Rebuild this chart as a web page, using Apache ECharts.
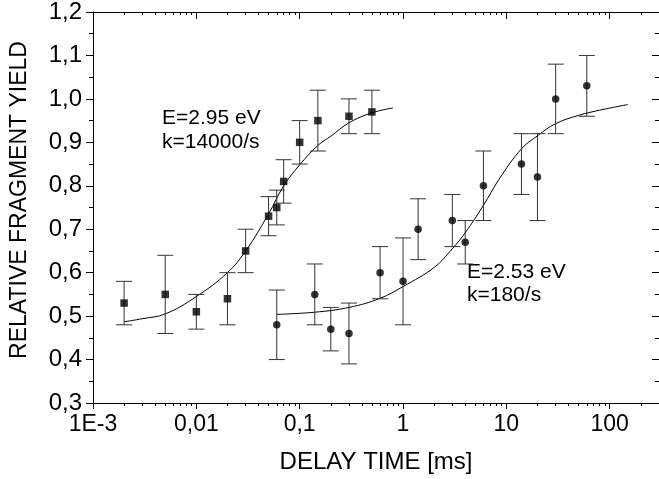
<!DOCTYPE html>
<html>
<head>
<meta charset="utf-8">
<script src="https://cdn.jsdelivr.net/npm/echarts@6/dist/echarts.min.js"></script>
<style>
  html, body { margin: 0; padding: 0; background: #fff; }
  #chart { width: 659px; height: 479px; }
</style>
</head>
<body>
<div id="chart"></div>
<script>
// E = 2.95 eV, delay time in ms
const fastTime = [0.002, 0.005, 0.01, 0.02, 0.03, 0.05, 0.06, 0.07, 0.1, 0.15, 0.3, 0.5]
const fastYield = [0.53, 0.55, 0.51, 0.54, 0.65, 0.73, 0.75, 0.81, 0.90, 0.95, 0.96, 0.97]
const fastErr = [0.05, 0.09, 0.04, 0.06, 0.05, 0.045, 0.04, 0.05, 0.05, 0.07, 0.04, 0.05]
// fitted curve
const fastFitTime = [0.002, 0.003, 0.005, 0.01, 0.02, 0.03, 0.05, 0.07, 0.1, 0.15, 0.2, 0.3, 0.5, 0.8]
const fastFitYield = [0.487, 0.494, 0.505, 0.545, 0.600, 0.650, 0.735, 0.800, 0.848, 0.893, 0.914, 0.945, 0.968, 0.979]

// E = 2.53 eV
const slowTime = [0.06, 0.14, 0.2, 0.3, 0.6, 1, 1.4, 3, 4, 6, 14, 20, 30, 60]
const slowYield = [0.48, 0.55, 0.47, 0.46, 0.60, 0.58, 0.70, 0.72, 0.67, 0.80, 0.85, 0.82, 1.00, 1.03]
const slowErr = [0.08, 0.07, 0.05, 0.07, 0.06, 0.10, 0.07, 0.06, 0.05, 0.08, 0.07, 0.10, 0.08, 0.07]
const slowFitTime = [0.06, 0.14, 0.3, 0.6, 1, 2, 3, 4, 6, 8.5, 14, 20, 30, 50, 80, 150]
const slowFitYield = [0.504, 0.509, 0.520, 0.541, 0.568, 0.612, 0.655, 0.692, 0.755, 0.815, 0.885, 0.915, 0.943, 0.962, 0.974, 0.987]

const majorTicks = [0.001, 0.01, 0.1, 1, 10, 100]
const tickLabels = ['1E-3', '0,01', '0,1', '1', '10', '100']

const minorTicks = []
majorTicks.forEach(d => {
  for (let m = 2; m <= 9; m++) {
    if (d * m < 300) minorTicks.push(+(d * m).toPrecision(3))
  }
})

const FONT = 'Liberation Sans, Arial, sans-serif'
const black = '#000'

const pairs = (xs, ys) => xs.map((x, i) => [x, ys[i]])
const bars = (xs, ys, es) => xs.map((x, i) => [x, ys[i] - es[i], ys[i] + es[i]])

function errorBars(params, api) {
  const x = api.value(0)
  const lo = api.coord([x, api.value(1)])
  const hi = api.coord([x, api.value(2)])
  const w = 8
  const style = { stroke: '#333', lineWidth: 1 }
  return {
    type: 'group',
    children: [
      { type: 'line', shape: { x1: lo[0], y1: lo[1], x2: hi[0], y2: hi[1] }, style },
      { type: 'line', shape: { x1: lo[0] - w, y1: lo[1], x2: lo[0] + w, y2: lo[1] }, style },
      { type: 'line', shape: { x1: hi[0] - w, y1: hi[1], x2: hi[0] + w, y2: hi[1] }, style },
    ]
  }
}

function labelFor(v) {
  const i = majorTicks.findIndex(t => Math.abs(Math.log10(t) - Math.log10(v)) < 0.01)
  return i >= 0 ? tickLabels[i] : ''
}

const logAxis = (position, ticks, len, inside, extra) => Object.assign({
  type: 'log',
  logBase: 10,
  min: 0.001,
  max: 300,
  position,
  axisLine: { show: true, onZero: false, lineStyle: { color: black, width: 1 } },
  axisTick: { show: true, inside, length: len, customValues: ticks, lineStyle: { color: black } },
  axisLabel: { show: false },
  splitLine: { show: false },
  minorTick: { show: false },
}, extra || {})

const chart = echarts.init(document.getElementById('chart'))

chart.setOption({
  animation: false,
  backgroundColor: '#fff',
  grid: { left: 93, right: -1, top: 10, bottom: 75, containLabel: false },
  xAxis: [
    logAxis('bottom', majorTicks, 6, false, {
      name: 'DELAY TIME [ms]',
      nameLocation: 'middle',
      nameGap: 47,
      nameTextStyle: { fontFamily: FONT, fontSize: 24, color: black },
      axisLabel: {
        show: true, customValues: majorTicks, margin: 10,
        fontFamily: FONT, fontSize: 23, color: black,
        formatter: labelFor,
      },
    }),
    logAxis('bottom', minorTicks, 3, false, { axisLine: { show: false } }),
    logAxis('top', majorTicks, 7, true),
    logAxis('top', minorTicks, 3, true, { axisLine: { show: false } }),
  ],
  yAxis: [
    {
      type: 'value', min: 0.3, max: 1.2, interval: 0.1, position: 'left',
      axisLine: { show: true, lineStyle: { color: black } },
      axisTick: { show: true, inside: false, length: 7, lineStyle: { color: black } },
      minorTick: { show: true, splitNumber: 2, length: 4, lineStyle: { color: black } },
      axisLabel: {
        margin: 11, fontFamily: FONT, fontSize: 24, color: black,
        formatter: v => v.toFixed(1).replace('.', ','),
      },
      splitLine: { show: false },
      minorSplitLine: { show: false },
    },
    {
      type: 'value', min: 0.3, max: 1.2, interval: 0.1, position: 'right',
      axisLine: { show: true, lineStyle: { color: black } },
      axisTick: { show: true, inside: true, length: 7, lineStyle: { color: black } },
      minorTick: { show: true, splitNumber: 2, length: 4, lineStyle: { color: black } },
      axisLabel: { show: false },
      splitLine: { show: false },
    },
  ],
  series: [
    {
      type: 'line', data: pairs(fastFitTime, fastFitYield), smooth: 0.4,
      showSymbol: false, symbol: 'none', lineStyle: { color: black, width: 1 }, z: 2,
    },
    {
      type: 'line', data: pairs(slowFitTime, slowFitYield), smooth: 0.4,
      showSymbol: false, symbol: 'none', lineStyle: { color: black, width: 1 }, z: 2,
    },
    {
      type: 'custom', renderItem: errorBars, data: bars(fastTime, fastYield, fastErr),
      encode: { x: 0, y: [1, 2] }, z: 3,
    },
    {
      type: 'custom', renderItem: errorBars, data: bars(slowTime, slowYield, slowErr),
      encode: { x: 0, y: [1, 2] }, z: 3,
    },
    {
      type: 'scatter', data: pairs(fastTime, fastYield), symbol: 'rect', symbolSize: 7.5,
      itemStyle: { color: black }, z: 4,
    },
    {
      type: 'scatter', data: pairs(slowTime, slowYield), symbol: 'circle', symbolSize: 7.5,
      itemStyle: { color: black }, z: 4,
    },
  ],
  graphic: [
    {
      type: 'text', x: 20, y: 200, rotation: Math.PI / 2,
      style: {
        text: 'RELATIVE FRAGMENT YIELD', fontFamily: FONT, fontSize: 23, fill: black,
        textAlign: 'center', textVerticalAlign: 'middle',
      },
    },
    {
      type: 'text', x: 162, y: 130,
      style: {
        text: 'E=2.95 eV\nk=14000/s', fontFamily: FONT, fontSize: 21, lineHeight: 24, fill: black,
        textAlign: 'left', textVerticalAlign: 'middle',
      },
    },
    {
      type: 'text', x: 467, y: 284,
      style: {
        text: 'E=2.53 eV\nk=180/s', fontFamily: FONT, fontSize: 21, lineHeight: 23, fill: black,
        textAlign: 'left', textVerticalAlign: 'middle',
      },
    },
  ],
})
</script>
</body>
</html>
